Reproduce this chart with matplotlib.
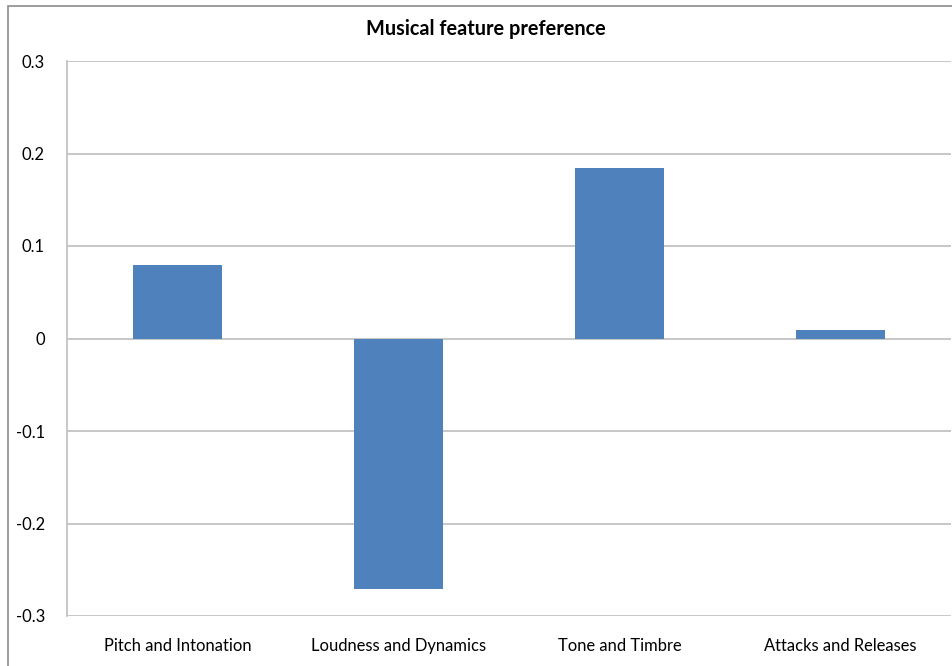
import matplotlib.pyplot as plt
from matplotlib.patches import Rectangle

# feature preference scores
features = ["Pitch and Intonation", "Loudness and Dynamics", "Tone and Timbre", "Attacks and Releases"]
scores = [0.079, -0.271, 0.184, 0.009]
y_ticks = [-0.3, -0.2, -0.1, 0, 0.1, 0.2, 0.3]
y_labels = ["-0.3", "-0.2", "-0.1", "0", "0.1", "0.2", "0.3"]

plt.rcParams["font.family"] = ["Lato", "DejaVu Sans"]

W, H = 952, 666
fig = plt.figure(figsize=(W / 100, H / 100), dpi=100)

# outer chart frame (runs off the right/bottom edge)
fig.patches.append(Rectangle((8 / W, -0.05), 1.1, 1 - 6 / H + 0.05,
                             transform=fig.transFigure, fill=False,
                             edgecolor="#8c8c8c", linewidth=1.2))

ax = fig.add_axes([67 / W, 1 - 616 / H, (951 - 67) / W, (616 - 61) / H])
x = range(len(features))
ax.bar(x, scores, width=0.4, color="#4F81BD", zorder=3)

ax.set_xlim(-0.5, len(features) - 0.5)
ax.set_ylim(-0.3, 0.3)
ax.set_yticks(y_ticks)
ax.set_yticklabels(y_labels)
ax.set_xticks(list(x))
ax.set_xticklabels(features)
ax.tick_params(axis="both", length=0, labelsize=11.9, colors="#000000")
ax.tick_params(axis="y", pad=16)
ax.tick_params(axis="x", pad=16)
ax.grid(axis="y", color="#bebebe", linewidth=1.2, zorder=0)
for s in ["top", "right", "bottom"]:
    ax.spines[s].set_visible(False)
ax.spines["left"].set_color("#bebebe")
ax.spines["left"].set_linewidth(1.2)

fig.text(486 / W, 1 - 29 / H, "Musical feature preference", ha="center", va="center",
         fontsize=14.3, fontweight="bold")

fig.savefig("out.png", dpi=100)
